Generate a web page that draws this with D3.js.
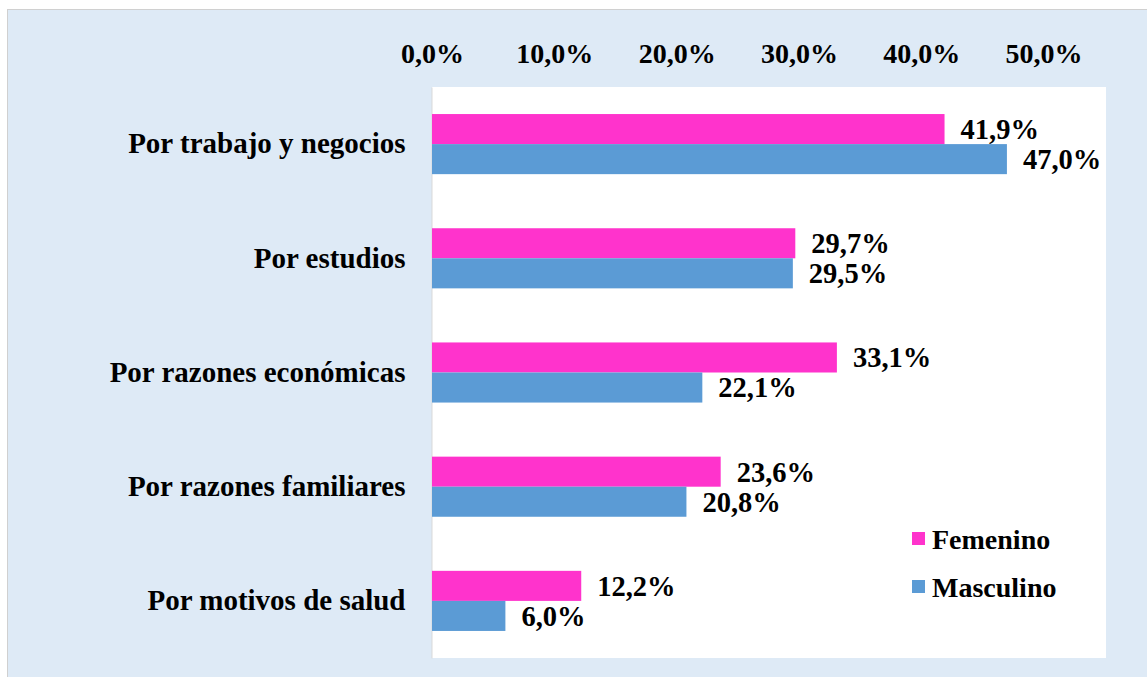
<!DOCTYPE html>
<html>
<head>
<meta charset="utf-8">
<script src="https://cdn.jsdelivr.net/npm/d3@7"></script>
<style>
  body { margin: 0; background: #ffffff; }
  text { font-family: "Liberation Serif", "Times New Roman", serif; font-weight: bold; fill: #000; }
</style>
</head>
<body>
<div id="chart"></div>
<script>
// data
const categories = ["Por trabajo y negocios", "Por estudios", "Por razones económicas", "Por razones familiares", "Por motivos de salud"];
const series = ["Femenino", "Masculino"];
const femenino = [41.9, 29.7, 33.1, 23.6, 12.2];
const masculino = [47.0, 29.5, 22.1, 20.8, 6.0];
const tickValues = [0, 10, 20, 30, 40, 50];
const colors = ["#ff33cc", "#5b9bd5"];

const W = 1147, H = 677;
const plot = { left: 432, right: 1106, top: 87, bottom: 658 };

const svg = d3.select("#chart").append("svg")
    .attr("width", W)
    .attr("height", H);

// outer light-blue frame
svg.append("rect")
    .attr("x", 7.5).attr("y", 9.5)
    .attr("width", W).attr("height", H)
    .attr("fill", "#deeaf6")
    .attr("stroke", "#d0d0d0");

// white plot area
svg.append("rect")
    .attr("x", plot.left).attr("y", plot.top)
    .attr("width", plot.right - plot.left)
    .attr("height", plot.bottom - plot.top)
    .attr("fill", "#ffffff");

const locale = d3.formatLocale({ decimal: ",", thousands: ".", grouping: [3], currency: ["", "€"] });
const fmt = v => locale.format(".1f")(v) + "%";

// scales
const x = d3.scaleLinear().domain([0, 55.1]).range([plot.left, plot.right]);
const y0 = d3.scaleBand().domain(categories).range([plot.top, plot.bottom]);
const y1 = d3.scaleBand().domain(series).range([0, y0.bandwidth()]).paddingOuter(0.9);

// top axis with percent labels
const xAxis = svg.append("g")
    .attr("transform", "translate(0,72)")
    .call(d3.axisTop(x).tickValues(tickValues).tickSize(0).tickPadding(9).tickFormat(fmt));
xAxis.select(".domain").remove();
xAxis.selectAll("text").style("font-size", "28px").style("font-family", "Liberation Serif, serif").style("font-weight", "bold");

// left category axis
const yAxis = svg.append("g")
    .attr("transform", `translate(${plot.left - 0.5},0)`)
    .call(d3.axisLeft(y0).tickSize(0).tickSizeOuter(0).tickPadding(26));
yAxis.select(".domain").attr("stroke", "#d9d9d9");
yAxis.selectAll("text").style("font-size", "29px").style("font-family", "Liberation Serif, serif").style("font-weight", "bold");

// bars
const rows = categories.map((c, i) => ({ cat: c, vals: [femenino[i], masculino[i]] }));
const groups = svg.selectAll(".grp")
    .data(rows)
    .enter().append("g")
    .attr("class", "grp")
    .attr("transform", d => `translate(0,${y0(d.cat)})`);

groups.selectAll("rect")
    .data(d => d.vals.map((v, j) => ({ s: series[j], v: v, j: j })))
    .enter().append("rect")
    .attr("x", x(0))
    .attr("y", d => y1(d.s))
    .attr("width", d => x(d.v) - x(0))
    .attr("height", y1.bandwidth())
    .attr("fill", d => colors[d.j]);

// value labels
groups.selectAll(".val")
    .data(d => d.vals.map((v, j) => ({ s: series[j], v: v })))
    .enter().append("text")
    .attr("class", "val")
    .attr("x", d => x(d.v) + 16)
    .attr("y", d => y1(d.s) + y1.bandwidth() / 2)
    .attr("dy", "0.35em")
    .style("font-size", "28.5px")
    .text(d => fmt(d.v));

// legend
const legend = svg.append("g").attr("transform", "translate(912,532)");
series.forEach((s, i) => {
    legend.append("rect")
        .attr("x", 0).attr("y", i * 48)
        .attr("width", 13).attr("height", 13)
        .attr("fill", colors[i]);
    legend.append("text")
        .attr("x", 20).attr("y", i * 48 + 7)
        .attr("dy", "0.35em")
        .style("font-size", "28px")
        .text(s);
});
</script>
</body>
</html>
